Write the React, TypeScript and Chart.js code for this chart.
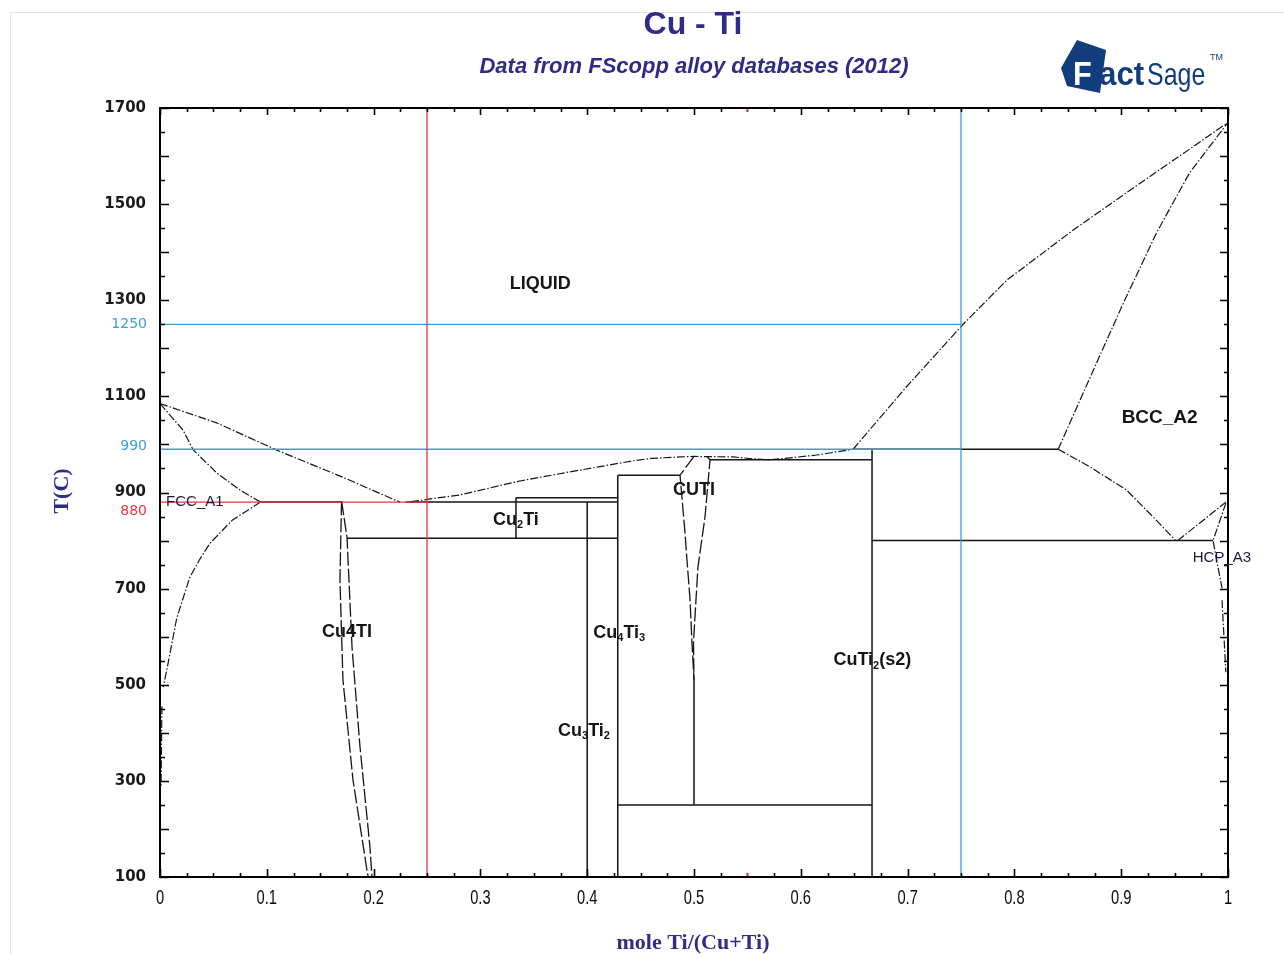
import React, { useEffect, useRef } from "react";
import { Chart, registerables } from "chart.js";
Chart.register(...registerables);

const W = 1284;
const H = 954;

// ---------- axis ticks ----------
const xTickValues = [0, 0.1, 0.2, 0.3, 0.4, 0.5, 0.6, 0.7, 0.8, 0.9, 1];
const xTickLabels = ["0", "0.1", "0.2", "0.3", "0.4", "0.5", "0.6", "0.7", "0.8", "0.9", "1"];
const yTickValues = [100, 300, 500, 700, 900, 1100, 1300, 1500, 1700];
const markedTemps = [1250, 990, 880];
const markedColors = ["#3a9fd8", "#3a9fd8", "#e8353b"];

// ---------- phase boundary curves (x = mole Ti, T in C) ----------
const cuLiquidusX = [0, 0.053, 0.1095, 0.171, 0.209, 0.2247];
const cuLiquidusT = [1085, 1045, 988, 932, 895, 880];

const fccSolidusX = [0, 0.0215, 0.031, 0.053, 0.075, 0.094];
const fccSolidusT = [1085, 1030, 989, 941, 905, 880];

const fccSolvusX = [0.094, 0.068, 0.047, 0.0375, 0.028, 0.0157, 0.0062, 0.003];
const fccSolvusT = [880, 843, 795, 762, 724, 639, 529, 495];
const fccSolvusTailX = [0.0018, 0.001];
const fccSolvusTailT = [455, 290];

const cu4TiLeftX = [0.17, 0.1685, 0.1713, 0.1807, 0.1938, 0.195];
const cu4TiLeftT = [882, 718, 510, 302, 114, 100];
const cu4TiRightX = [0.17, 0.1751, 0.1798, 0.1873, 0.1966, 0.1985];
const cu4TiRightT = [882, 807, 578, 370, 162, 100];

const midLiquidusX = [0.235, 0.281, 0.337, 0.384, 0.443, 0.46, 0.487, 0.5, 0.537, 0.555, 0.57, 0.59, 0.615, 0.635, 0.649];
const midLiquidusT = [881, 895, 924, 943, 966, 971, 974, 975, 974, 970, 968, 972, 978, 985, 990];

const cuTiLeftX = [0.5, 0.4869, 0.4916, 0.4934, 0.4962, 0.4981, 0.5];
const cuTiLeftT = [975, 936, 816, 760, 680, 587, 510];
const cuTiRightX = [0.512, 0.515, 0.5103, 0.5037, 0.5009, 0.4995, 0.5];
const cuTiRightT = [975, 968, 849, 745, 641, 587, 510];

const tiLiquidusX = [0.649, 0.699, 0.752, 0.793, 0.855, 0.918, 0.967, 1];
const tiLiquidusT = [990, 1120, 1250, 1342, 1446, 1544, 1619, 1670];

const bccSolidusX = [0.841, 0.871, 0.902, 0.933, 0.964, 1];
const bccSolidusT = [990, 1140, 1294, 1440, 1565, 1670];

const bccSolvusX = [0.841, 0.871, 0.905, 0.93, 0.951];
const bccSolvusT = [990, 953, 905, 849, 800];

const bccHcpX = [0.953, 0.998];
const bccHcpT = [800, 880];

const hcpSolvusX = [0.998, 0.986, 0.9906, 0.9944];
const hcpSolvusT = [878, 800, 745, 701];
const hcpSolvusLowX = [0.9944, 0.998];
const hcpSolvusLowT = [676, 526];

// ---------- invariant (horizontal) lines ----------
const isoT = [880, 880, 889, 805, 936, 968, 990, 800, 250];
const isoX1 = [0.094, 0.23, 0.3333, 0.1751, 0.4286, 0.515, 0.649, 0.6667, 0.4286];
const isoX2 = [0.17, 0.4286, 0.4286, 0.4286, 0.487, 0.6667, 0.841, 0.986, 0.6667];

// ---------- compound (vertical) lines ----------
const compX = [0.3333, 0.4, 0.4286, 0.6667, 0.5];
const compTlo = [805, 100, 100, 100, 250];
const compThi = [889, 880, 936, 990, 510];

// ---------- reference guide lines ----------
const redVX = 0.25;
const redHT = 880;
const blueVX = 0.75;
const blueHT = [1250, 990];

// ---------- region labels (~ marks subscript parts) ----------
const regionText = ["LIQUID", "FCC_A1", "Cu~2~Ti", "CUTI", "Cu4TI", "Cu~4~Ti~3", "Cu~3~Ti~2", "CuTi~2~(s2)", "BCC_A2", "HCP_A3"];
const regionX = [0.356, 0.0056, 0.3333, 0.5, 0.175, 0.43, 0.397, 0.667, 0.936, 0.967];
const regionT = [1334, 880, 843, 905, 610, 608, 404, 551, 1055, 764];
const regionBold = [true, false, true, true, true, true, true, true, true, false];
const regionSize = [18, 15, 18, 18, 18, 18, 18, 18, 19, 15];
const regionAlign = ["center", "left", "center", "center", "center", "center", "center", "center", "center", "left"];

const NAVY = "#2f2b88";
const INK = "#151515";
const DASH = [8, 2, 1.5, 2];

function pts(xs: number[], ts: number[]) {
  return xs.map((x, i) => ({ x, y: ts[i] }));
}

function lineDs(data: { x: number; y: number }[], color: string, width: number, dash: number[], order: number) {
  return {
    data,
    showLine: true,
    borderColor: color,
    backgroundColor: color,
    borderWidth: width,
    borderDash: dash,
    pointRadius: 0,
    pointHoverRadius: 0,
    tension: 0,
    fill: false,
    order,
  };
}

function buildDatasets() {
  const ds: any[] = [];
  ds.push(lineDs(pts([redVX, redVX], [100, 1700]), "#e8353b", 1.3, [], 0));
  ds.push(lineDs(pts([0, redVX], [redHT, redHT]), "#e8353b", 1.3, [], 0));
  ds.push(lineDs(pts([blueVX, blueVX], [100, 1700]), "#3a9fd8", 1.3, [], 0));
  blueHT.forEach((t) => ds.push(lineDs(pts([0, blueVX], [t, t]), "#3a9fd8", 1.3, [], 0)));

  const curves: [number[], number[]][] = [
    [cuLiquidusX, cuLiquidusT],
    [fccSolidusX, fccSolidusT],
    [fccSolvusX, fccSolvusT],
    [fccSolvusTailX, fccSolvusTailT],
    [midLiquidusX, midLiquidusT],
    [tiLiquidusX, tiLiquidusT],
    [bccSolidusX, bccSolidusT],
    [bccSolvusX, bccSolvusT],
    [bccHcpX, bccHcpT],
    [hcpSolvusX, hcpSolvusT],
    [hcpSolvusLowX, hcpSolvusLowT],
  ];
  curves.forEach(([xs, ts]) => ds.push(lineDs(pts(xs, ts), INK, 1.2, DASH, 1)));

  const lens: [number[], number[]][] = [
    [cu4TiLeftX, cu4TiLeftT],
    [cu4TiRightX, cu4TiRightT],
    [cuTiLeftX, cuTiLeftT],
    [cuTiRightX, cuTiRightT],
  ];
  lens.forEach(([xs, ts]) => ds.push(lineDs(pts(xs, ts), INK, 1.3, [14, 3], 1)));

  isoT.forEach((t, i) => ds.push(lineDs(pts([isoX1[i], isoX2[i]], [t, t]), INK, 1.5, [], 1)));
  compX.forEach((x, i) => ds.push(lineDs(pts([x, x], [compTlo[i], compThi[i]]), INK, 1.5, [], 1)));
  return ds;
}

function drawRich(ctx: CanvasRenderingContext2D, text: string, x: number, y: number, size: number, bold: boolean, align: string) {
  const parts = text.split("~");
  const mainFont = `${bold ? "bold " : ""}${size}px "Liberation Sans", Arial, sans-serif`;
  const subFont = `${bold ? "bold " : ""}${Math.round(size * 0.6)}px "Liberation Sans", Arial, sans-serif`;
  let total = 0;
  parts.forEach((p, i) => {
    ctx.font = i % 2 ? subFont : mainFont;
    total += ctx.measureText(p).width;
  });
  let cx = align === "left" ? x : x - total / 2;
  ctx.textBaseline = "middle";
  ctx.textAlign = "left";
  parts.forEach((p, i) => {
    ctx.font = i % 2 ? subFont : mainFont;
    ctx.fillText(p, cx, i % 2 ? y + size * 0.3 : y);
    cx += ctx.measureText(p).width;
  });
}

// draws horizontally condensed text (narrow face look)
function narrowText(ctx: CanvasRenderingContext2D, text: string, x: number, y: number, font: string, sx: number, align: CanvasTextAlign) {
  ctx.save();
  ctx.font = font;
  ctx.textAlign = align;
  ctx.translate(x, y);
  ctx.scale(sx, 1);
  ctx.fillText(text, 0, 0);
  ctx.restore();
}

const decor = {
  id: "decor",
  beforeDraw(chart: any) {
    const ctx = chart.ctx as CanvasRenderingContext2D;
    ctx.save();
    ctx.fillStyle = "#fff";
    ctx.fillRect(0, 0, chart.width, chart.height);
    ctx.strokeStyle = "#e4e4e4";
    ctx.lineWidth = 1;
    ctx.beginPath();
    ctx.moveTo(10.5, H);
    ctx.lineTo(10.5, 12.5);
    ctx.lineTo(W, 12.5);
    ctx.stroke();
    ctx.restore();
  },
  afterDraw(chart: any) {
    const ctx = chart.ctx as CanvasRenderingContext2D;
    const { left, right, top, bottom } = chart.chartArea;
    const xs = chart.scales.x;
    const ys = chart.scales.y;
    ctx.save();

    // ticks
    ctx.strokeStyle = "#000";
    ctx.lineWidth = 1.6;
    ctx.beginPath();
    for (let k = 0; k <= 40; k++) {
      const v = k / 40;
      const px = Math.round(xs.getPixelForValue(v)) + 0.5;
      const major = k % 4 === 0;
      ctx.moveTo(px, bottom);
      ctx.lineTo(px, bottom - (major ? 8 : 4));
      ctx.moveTo(px, top);
      ctx.lineTo(px, top + (major ? 7 : 4));
    }
    for (let t = 100; t <= 1700; t += 50) {
      const py = Math.round(ys.getPixelForValue(t)) + 0.5;
      const major = t % 100 === 0;
      ctx.moveTo(left, py);
      ctx.lineTo(left + (major ? 9 : 5), py);
      ctx.moveTo(right, py);
      ctx.lineTo(right - (major ? 8 : 4), py);
    }
    ctx.stroke();

    // small red markers at x=0.55
    ctx.strokeStyle = "#e8353b";
    ctx.lineWidth = 1.5;
    ctx.beginPath();
    const rx = xs.getPixelForValue(0.55);
    ctx.moveTo(rx, bottom);
    ctx.lineTo(rx, bottom - 4);
    ctx.moveTo(rx, top);
    ctx.lineTo(rx, top + 4);
    ctx.stroke();

    // frame
    ctx.strokeStyle = "#000";
    ctx.lineWidth = 2;
    ctx.strokeRect(left, top, right - left, bottom - top);

    // x tick labels (narrow face)
    ctx.fillStyle = "#0a0a0a";
    ctx.textBaseline = "middle";
    xTickValues.forEach((v, i) => {
      narrowText(ctx, xTickLabels[i], xs.getPixelForValue(v), bottom + 21, '21px "Liberation Sans", Arial, sans-serif', 0.7, "center");
    });

    // marked temperature labels
    ctx.textAlign = "right";
    ctx.textBaseline = "middle";
    ctx.font = '14px "DejaVu Sans", sans-serif';
    const offs = [0, -3, 9];
    markedTemps.forEach((t, i) => {
      ctx.fillStyle = markedColors[i];
      ctx.fillText(String(t), left - 13, ys.getPixelForValue(t) + offs[i]);
    });

    // region labels
    regionText.forEach((txt, i) => {
      const px = xs.getPixelForValue(regionX[i]);
      const py = ys.getPixelForValue(regionT[i]);
      ctx.fillStyle = i === 1 || i === 9 ? "#1a1a40" : INK;
      drawRich(ctx, txt, px, py, regionSize[i], regionBold[i], regionAlign[i]);
    });

    // titles
    ctx.fillStyle = NAVY;
    ctx.textAlign = "center";
    ctx.textBaseline = "middle";
    ctx.font = 'bold 32px "Liberation Sans", Arial, sans-serif';
    ctx.fillText("Cu - Ti", 693, 25);
    ctx.font = 'italic bold 22px "Liberation Sans", Arial, sans-serif';
    ctx.fillText("Data from FScopp alloy databases (2012)", 694, 67);

    // axis titles
    ctx.font = 'bold 22px "Liberation Serif", "Times New Roman", serif';
    ctx.fillText("mole Ti/(Cu+Ti)", 693, 943);
    ctx.save();
    ctx.translate(62, 491);
    ctx.rotate(-Math.PI / 2);
    ctx.fillText("T(C)", 0, 0);
    ctx.restore();

    // FactSage logo
    ctx.fillStyle = "#123d7c";
    ctx.beginPath();
    ctx.moveTo(1061, 68);
    ctx.lineTo(1077, 40);
    ctx.lineTo(1106, 50);
    ctx.lineTo(1100, 93);
    ctx.lineTo(1067, 86);
    ctx.closePath();
    ctx.fill();
    ctx.textBaseline = "alphabetic";
    ctx.fillStyle = "#fff";
    narrowText(ctx, "F", 1073, 85, 'bold 34px "Liberation Sans", Arial, sans-serif', 0.9, "left");
    ctx.fillStyle = "#123d7c";
    narrowText(ctx, "act", 1099, 85, 'bold 34px "Liberation Sans", Arial, sans-serif', 0.92, "left");
    narrowText(ctx, "Sage", 1147, 85, '32px "Liberation Sans", Arial, sans-serif', 0.78, "left");
    ctx.font = '9px "Liberation Sans", Arial, sans-serif';
    ctx.textAlign = "left";
    ctx.fillText("TM", 1210, 60);

    ctx.restore();
  },
};

export default function App() {
  const ref = useRef<HTMLCanvasElement>(null);
  useEffect(() => {
    const canvas = ref.current!;
    const chart = new Chart(canvas, {
      type: "scatter",
      data: { datasets: buildDatasets() },
      options: {
        animation: false,
        responsive: false,
        devicePixelRatio: 1,
        layout: { padding: { left: 0, right: 56, top: 108, bottom: 37 } },
        plugins: { legend: { display: false }, tooltip: { enabled: false }, title: { display: false } },
        events: [],
        scales: {
          x: {
            type: "linear",
            min: 0,
            max: 1,
            afterFit: (s: any) => {
              s.height = 40;
            },
            afterBuildTicks: (s: any) => {
              s.ticks = xTickValues.map((v) => ({ value: v }));
            },
            grid: { display: false, drawTicks: false },
            border: { display: false },
            ticks: { display: false, autoSkip: false },
          },
          y: {
            type: "linear",
            min: 100,
            max: 1700,
            afterFit: (s: any) => {
              s.width = 160;
            },
            afterBuildTicks: (s: any) => {
              s.ticks = yTickValues.map((v) => ({ value: v }));
            },
            grid: { display: false, drawTicks: false },
            border: { display: false },
            ticks: {
              autoSkip: false,
              padding: 14,
              color: "#1a1a1a",
              font: { family: '"DejaVu Sans", sans-serif', size: 15, weight: "bold" },
              callback: (v: any) => String(v),
            },
          },
        },
      } as any,
      plugins: [decor],
    });
    return () => chart.destroy();
  }, []);
  return (
    <div style={{ position: "fixed", left: 0, top: 0, width: W, height: H, background: "#fff" }}>
      <canvas ref={ref} width={W} height={H} style={{ display: "block", width: W, height: H }} />
    </div>
  );
}
